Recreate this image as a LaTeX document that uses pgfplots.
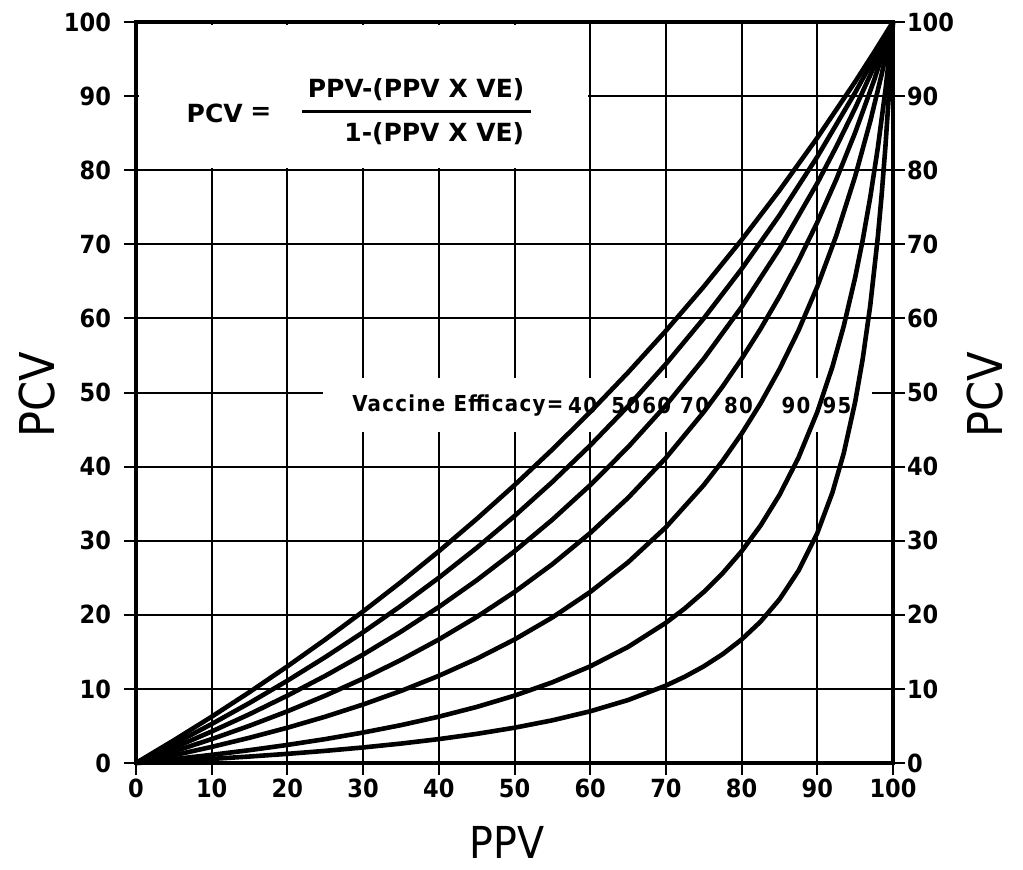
\documentclass[border=0pt]{standalone}
\usepackage{fontspec}
\setmainfont{DejaVu Sans Condensed}
\newfontfamily\wide{DejaVu Sans}
\usepackage{pgfplots}
\pgfplotsset{compat=1.18}

\begin{document}
\begin{tikzpicture}
\pgfplotsset{
  vestyle/.style={black, line width=2.3pt, line join=round, no marks},
  tickfont/.style={font=\fontsize{12.5}{14}\selectfont\bfseries},
}
\tikzset{
  formula/.style={font=\wide\fontsize{12.5}{14}\selectfont\bfseries},
  effic/.style={font=\fontsize{11}{13}\selectfont\bfseries\addfontfeature{LetterSpace=6}},
}
\begin{axis}[
    scale only axis,
    width=378.5pt, height=370.5pt,
    xmin=0, xmax=100, ymin=0, ymax=100,
    xtick={0,10,...,100}, ytick={0,10,...,100},
    xtick pos=bottom, ytick pos=left,
    tick align=outside,
    major tick length=6pt,
    every tick/.style={black, line width=1pt},
    grid=major,
    grid style={black, line width=1pt},
    axis line style={line width=1.7pt},
    ticklabel style={tickfont},
    yticklabel style={xshift=-3pt},
    xticklabel style={yshift=1.5pt},
    /pgf/number format/assume math mode=true,
    clip=false,
]
% white boxes behind the text
\fill[white] (axis cs:0.4,80.3) rectangle (axis cs:59.7,99.6);
\fill[white] (axis cs:24.7,44.7) rectangle (axis cs:97.2,52.0);

% VE = 0.40
\addplot[vestyle] coordinates {
(0,0)(5,3.061)(10,6.25)(15,9.574)(20,13.043)(25,16.667)(30,20.455)(35,24.419)
(40,28.571)(45,32.927)(50,37.5)(55,42.308)(60,47.368)(65,52.703)(70,58.333)
(75,64.286)(80,70.588)(85,77.273)(90,84.375)(95,91.935)(97.5,95.902)(100,100)};
% VE = 0.50
\addplot[vestyle] coordinates {
(0,0)(5,2.564)(10,5.263)(15,8.108)(20,11.111)(25,14.286)(30,17.647)(35,21.212)
(40,25)(45,29.032)(50,33.333)(55,37.931)(60,42.857)(65,48.148)(70,53.846)
(75,60)(80,66.667)(85,73.913)(90,81.818)(95,90.476)(97.5,95.122)(100,100)};
% VE = 0.60
\addplot[vestyle] coordinates {
(0,0)(5,2.062)(10,4.255)(15,6.593)(20,9.091)(25,11.765)(30,14.634)(35,17.722)
(40,21.053)(45,24.658)(50,28.571)(55,32.836)(60,37.5)(65,42.623)(70,48.276)
(75,54.545)(80,61.538)(85,69.388)(90,78.261)(92.5,83.146)(95,88.372)(97.5,93.976)(100,100)};
% VE = 0.70
\addplot[vestyle] coordinates {
(0,0)(5,1.554)(10,3.226)(15,5.028)(20,6.977)(25,9.091)(30,11.392)(35,13.907)
(40,16.667)(45,19.708)(50,23.077)(55,26.829)(60,31.034)(65,35.780)(70,41.176)
(75,47.368)(77.5,50.820)(80,54.545)(82.5,58.580)(85,62.963)(87.5,67.742)(90,72.973)
(92.5,78.723)(95,85.075)(97.5,92.126)(100,100)};
% VE = 0.80
\addplot[vestyle] coordinates {
(0,0)(5,1.042)(10,2.174)(15,3.409)(20,4.762)(25,6.25)(30,7.895)(35,9.722)
(40,11.765)(45,14.063)(50,16.667)(55,19.643)(60,23.077)(65,27.083)(70,31.818)
(75,37.5)(77.5,40.789)(80,44.444)(82.5,48.529)(85,53.125)(87.5,58.333)(90,64.286)
(92.5,71.154)(95,79.167)(97,86.607)(98.5,92.925)(100,100)};
% VE = 0.90
\addplot[vestyle] coordinates {
(0,0)(5,0.524)(10,1.099)(15,1.734)(20,2.439)(25,3.226)(30,4.110)(35,5.109)
(40,6.25)(45,7.563)(50,9.091)(55,10.891)(60,13.043)(65,15.663)(70,18.919)
(72.5,20.863)(75,23.077)(77.5,25.620)(80,28.571)(82.5,32.039)(85,36.170)(87.5,41.176)
(90,47.368)(92,53.488)(93.5,58.991)(95,65.517)(96,70.588)(97,76.378)(98,83.051)
(99,90.826)(100,100)};
% VE = 0.95
\addplot[vestyle] coordinates {
(0,0)(5,0.262)(10,0.552)(15,0.875)(20,1.235)(25,1.639)(30,2.098)(35,2.622)
(40,3.226)(45,3.930)(50,4.762)(55,5.759)(60,6.977)(65,8.497)(70,10.448)
(72.5,11.647)(75,13.043)(77.5,14.692)(80,16.667)(82.5,19.075)(85,22.078)(87.5,25.926)
(90,31.034)(92,36.508)(93.5,41.834)(95,48.718)(96,54.545)(97,61.783)(98,71.014)
(98.5,76.654)(99,83.193)(99.5,90.868)(100,100)};

% formula
\node[formula] at (axis cs:10.4,87.7) {PCV};
\node[formula] at (axis cs:16.5,87.7) {=};
\node[formula] at (axis cs:37.0,90.9) {PPV-(PPV X VE)};
\draw[line width=1.6pt] (axis cs:21.9,87.9) -- (axis cs:52.2,87.9);
\node[formula] at (axis cs:39.4,84.9) {1-(PPV X VE)};

% efficacy label
\node[anchor=east, effic] at (axis cs:57.4,48.3) {Vaccine Efficacy=};
\node[effic] at (axis cs:59.0,48.3) {40};
\node[effic] at (axis cs:64.7,48.3) {50};
\node[effic] at (axis cs:68.8,48.3) {60};
\node[effic] at (axis cs:73.8,48.3) {70};
\node[effic] at (axis cs:79.6,48.3) {80};
\node[effic] at (axis cs:87.2,48.3) {90};
\node[effic] at (axis cs:92.6,48.3) {95};

% axis titles
\node[rotate=90, font=\fontsize{24}{28}\selectfont] at (axis cs:-13.1,49.7) {PCV};
\node[rotate=90, font=\fontsize{24}{28}\selectfont] at (axis cs:112.2,49.7) {PCV};
\node[anchor=base, inner sep=0pt, font=\fontsize{22}{26}\selectfont] at (axis cs:49.0,-12.9) {PPV};

\coordinate (SW) at (rel axis cs:0,0);
\coordinate (NE) at (rel axis cs:1,1);
\end{axis}

% right-hand scale
\begin{axis}[
    scale only axis,
    width=378.5pt, height=370.5pt,
    xmin=0, xmax=100, ymin=0, ymax=100,
    hide x axis,
    axis y line*=right,
    ytick={0,10,...,100},
    tick align=outside,
    major tick length=6pt,
    every tick/.style={black, line width=1pt},
    axis line style={line width=1.7pt},
    ticklabel style={tickfont},
    yticklabel style={xshift=-2.5pt},
    /pgf/number format/assume math mode=true,
]
\addplot[draw=none] coordinates {(0,0)(100,100)};
\end{axis}

\pgfresetboundingbox
\path ([shift={(-68pt,-53pt)}]SW) rectangle ([shift={(65pt,11pt)}]NE);
\end{tikzpicture}
\end{document}
